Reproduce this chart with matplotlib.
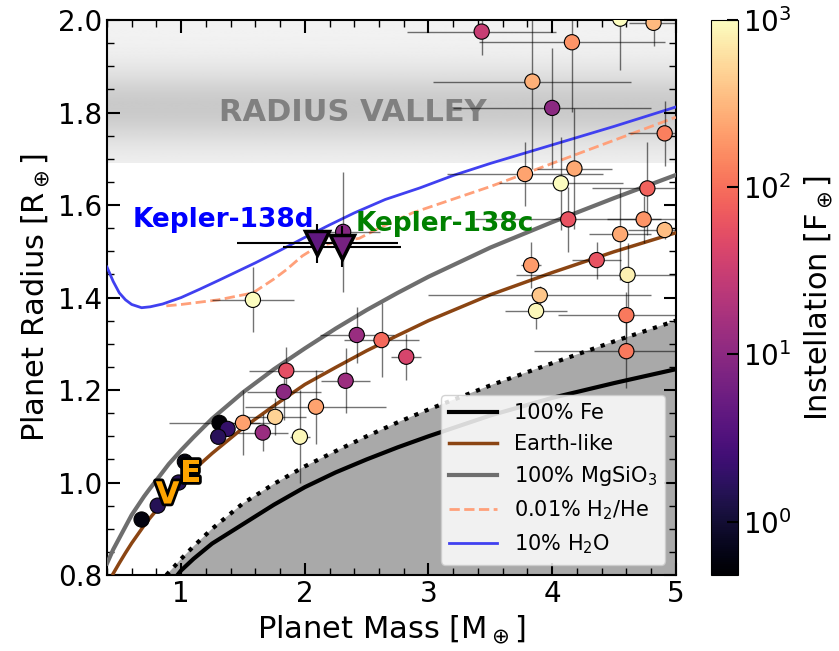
import numpy as np
import matplotlib
matplotlib.use("Agg")
import matplotlib.pyplot as plt
import matplotlib.patheffects as pe
from matplotlib.colors import LogNorm

# composition curves (mass [M_earth], radius [R_earth])
fe_mass = [0.97, 1.0, 1.1, 1.25, 1.5, 1.75, 2.0, 2.25, 2.5, 2.75, 3.0, 3.5, 4.0, 4.5, 5.0]
fe_rad = [0.80, 0.81, 0.835, 0.868, 0.91, 0.952, 0.99, 1.022, 1.05, 1.076,
          1.10, 1.145, 1.183, 1.215, 1.245]

earth_mass = [0.45, 0.5, 0.55, 0.6, 0.65, 0.7, 0.75, 0.8, 0.9, 1.0, 1.1, 1.25, 1.5,
              1.75, 2.0, 2.25, 2.5, 2.75, 3.0, 3.5, 4.0, 4.5, 5.0]
earth_rad = [0.803, 0.826, 0.848, 0.869, 0.888, 0.907, 0.924, 0.940, 0.971, 1.0,
             1.027, 1.063, 1.118, 1.166, 1.212, 1.249, 1.285, 1.318, 1.350, 1.406,
             1.454, 1.499, 1.54]

rock_mass = [0.4, 0.45, 0.5, 0.55, 0.6, 0.65, 0.7, 0.75, 0.8, 0.9, 1.0, 1.1, 1.25,
             1.5, 1.75, 2.0, 2.25, 2.5, 2.75, 3.0, 3.5, 4.0, 4.5, 5.0]
rock_rad = [0.825, 0.855, 0.88, 0.905, 0.93, 0.95, 0.97, 0.988, 1.005, 1.04, 1.07,
            1.098, 1.138, 1.195, 1.245, 1.29, 1.333, 1.373, 1.41, 1.445, 1.508,
            1.563, 1.615, 1.665]

h2he_mass = [0.88, 1.0, 1.3, 1.58, 1.75, 1.85, 1.98, 2.1, 2.25, 2.44, 2.6, 2.87,
             3.5, 4.0, 4.5, 5.0]
h2he_rad = [1.382, 1.385, 1.395, 1.41, 1.44, 1.46, 1.49, 1.51, 1.52, 1.528,
            1.55, 1.583, 1.64, 1.69, 1.74, 1.79]

h2o_mass = [0.4, 0.45, 0.5, 0.55, 0.6, 0.68, 0.75, 0.85, 1.0, 1.15, 1.31, 1.6, 1.8,
            2.0, 2.2, 2.4, 2.65, 2.93, 3.2, 3.5, 4.0, 4.5, 5.0]
h2o_rad = [1.466, 1.435, 1.41, 1.395, 1.385, 1.378, 1.38, 1.386, 1.40, 1.418,
           1.438, 1.475, 1.502, 1.53, 1.557, 1.583, 1.612, 1.637, 1.664, 1.69,
           1.73, 1.77, 1.812]

strip_mass = [0.88, 0.95, 1.0, 1.1, 1.25, 1.5, 1.75, 2.0, 2.25, 2.5, 2.75, 3.0,
              3.5, 4.0, 4.5, 5.0]
strip_rad = [0.80, 0.82, 0.835, 0.862, 0.90, 0.955, 0.997, 1.035, 1.068, 1.10,
             1.13, 1.158, 1.21, 1.258, 1.305, 1.35]

# known planets
pl_mass = [0.68, 0.81, 0.98, 1.03, 1.31, 1.375, 1.30, 1.50, 1.76, 1.66, 1.96, 2.09,
           1.83, 1.85, 2.33, 2.42, 2.62, 1.58, 2.82, 3.90, 3.87, 4.60, 4.60, 4.61,
           4.36, 3.83, 4.91, 4.55, 4.74, 4.13, 4.77, 4.18, 4.07, 3.78, 4.91, 4.00,
           3.84, 4.16, 3.43, 4.82, 4.55, 2.31]
pl_rad = [0.92, 0.95, 1.00, 1.045, 1.129, 1.116, 1.099, 1.129, 1.142, 1.108, 1.099, 1.164,
          1.196, 1.242, 1.22, 1.319, 1.308, 1.395, 1.272, 1.405, 1.371, 1.362, 1.284, 1.449,
          1.481, 1.47, 1.546, 1.537, 1.569, 1.569, 1.636, 1.679, 1.647, 1.667, 1.755, 1.81,
          1.867, 1.952, 1.975, 1.994, 2.003, 1.542]
pl_mass_err = [0.02, 0.02, 0.02, 0.02, 0.41, 0.05, 0.05, 0.14, 0.25, 0.2, 0.08, 0.57,
               0.3, 0.3, 0.2, 0.3, 0.3, 0.33, 0.12, 0.9, 0.25, 0.55, 0.75, 0.9,
               0.2, 0.08, 0.3, 0.25, 0.3, 0.75, 0.45, 0.3, 0.5, 0.63, 0.3, 0.8,
               0.8, 0.75, 0.6, 0.2, 0.1, 0.3]
pl_rad_err = [0.005, 0.005, 0.005, 0.005, 0.01, 0.01, 0.01, 0.07, 0.04, 0.04, 0.1, 0.08,
              0.06, 0.05, 0.07, 0.06, 0.08, 0.07, 0.05, 0.02, 0.04, 0.05, 0.08, 0.07,
              0.04, 0.05, 0.02, 0.1, 0.05, 0.07, 0.1, 0.13, 0.1, 0.07, 0.07, 0.13,
              0.19, 0.15, 0.05, 0.05, 0.11, 0.13]
pl_inst = [0.6, 1.5, 1.5, 0.6, 0.5, 2.0, 1.6, 220, 500, 13, 900, 230,
           10, 55, 14, 13, 90, 1000, 40, 400, 900, 120, 120, 800,
           60, 200, 350, 250, 180, 60, 80, 250, 1000, 230, 130, 10,
           280, 180, 30, 330, 1000, 9]

# Kepler-138 c and d
k138_mass = [2.10, 2.30]
k138_rad = [1.517, 1.51]
k138_mass_err = [0.65, 0.48]
k138_rad_err = [0.042, 0.045]
k138_inst = [4.5, 6.5]

norm = LogNorm(vmin=0.48, vmax=1000)
cmap = plt.cm.magma

fig = plt.figure(figsize=(8.39, 6.51), dpi=100)
ax = fig.add_axes([0.1275, 0.1167, 0.678, 0.8525])
cax = fig.add_axes([0.8474, 0.1167, 0.0322, 0.8525])

# radius valley band
yy = np.linspace(1.69, 2.0, 200)
shade = 0.95 - 0.16 * np.exp(-((yy - 1.81) / 0.08) ** 2)
ax.imshow(shade[:, None], extent=[0.4, 5, 1.69, 2.0], origin="lower", cmap="gray",
          vmin=0, vmax=1, aspect="auto", zorder=0)
ax.text(2.39, 1.80, "RADIUS VALLEY", fontsize=22, fontweight="bold", color="gray",
        ha="center", va="center", zorder=1)

# collisional stripping region
ax.fill_between(strip_mass, 0.7, strip_rad, color="darkgray", zorder=1)
ax.plot(strip_mass, strip_rad, color="k", ls=":", lw=3, zorder=2)

ax.plot(fe_mass, fe_rad, color="k", lw=3, label="100% Fe", zorder=3)
ax.plot(earth_mass, earth_rad, color="#8B4513", lw=2.5, label="Earth-like", zorder=3)
ax.plot(rock_mass, rock_rad, color="#6e6e6e", lw=3, label="100% MgSiO$_3$", zorder=3)
ax.plot(h2he_mass, h2he_rad, color="lightsalmon", lw=2, ls="--",
        label="0.01% H$_2$/He", zorder=3)
ax.plot(h2o_mass, h2o_rad, color="#4040f0", lw=2, label="10% H$_2$O", zorder=3)

ax.errorbar(pl_mass, pl_rad, xerr=pl_mass_err, yerr=pl_rad_err, fmt="none",
            ecolor="k", elinewidth=1, alpha=0.55, zorder=4)
sc = ax.scatter(pl_mass, pl_rad, c=pl_inst, cmap=cmap, norm=norm, s=120,
                edgecolors="k", linewidths=0.8, zorder=5)

ax.errorbar(k138_mass, k138_rad, xerr=k138_mass_err, yerr=k138_rad_err, fmt="none",
            ecolor="k", elinewidth=1.5, zorder=6)
for m, r, f in zip(k138_mass, k138_rad, k138_inst):
    ax.plot(m, r, marker="v", ms=17, mfc=cmap(norm(f)), mec="k", mew=2.5, zorder=7)

ax.text(1.34, 1.567, "Kepler-138d", color="blue", fontsize=19, fontweight="bold",
        ha="center", va="center", zorder=8)
ax.text(3.13, 1.56, "Kepler-138c", color="green", fontsize=19, fontweight="bold",
        ha="center", va="center", zorder=8)

stroke = [pe.withStroke(linewidth=4, foreground="k")]
ax.text(0.89, 0.973, "V", color="orange", fontsize=22, fontweight="bold",
        ha="center", va="center", path_effects=stroke, zorder=8)
ax.text(1.08, 1.02, "E", color="orange", fontsize=22, fontweight="bold",
        ha="center", va="center", path_effects=stroke, zorder=8)

ax.set_xlim(0.4, 5)
ax.set_ylim(0.8, 2.0)
ax.set_xticks([1, 2, 3, 4, 5])
ax.set_xticks(np.arange(0.4, 5.01, 0.2), minor=True)
ax.set_yticks(np.arange(0.8, 2.01, 0.2))
ax.set_yticks(np.arange(0.8, 2.01, 0.05), minor=True)
ax.tick_params(which="both", direction="in", top=True, right=True, labelsize=20)
ax.tick_params(which="major", length=9, width=1.5)
ax.tick_params(which="minor", length=5, width=1)
for s in ax.spines.values():
    s.set_linewidth(1.5)
ax.set_xlabel("Planet Mass [M$_\\oplus$]", fontsize=22)
ax.set_ylabel("Planet Radius [R$_\\oplus$]", fontsize=22)

leg = ax.legend(loc="lower right", fontsize=15, framealpha=0.85, handlelength=2.3)
leg.set_zorder(10)

cb = fig.colorbar(sc, cax=cax)
cb.ax.minorticks_off()
cb.ax.tick_params(direction="in", length=8, width=1.5, labelsize=20)
cb.set_label("Instellation [F$_\\oplus$]", fontsize=22, labelpad=8)

plt.savefig("out.png", dpi=100)
plt.close()
